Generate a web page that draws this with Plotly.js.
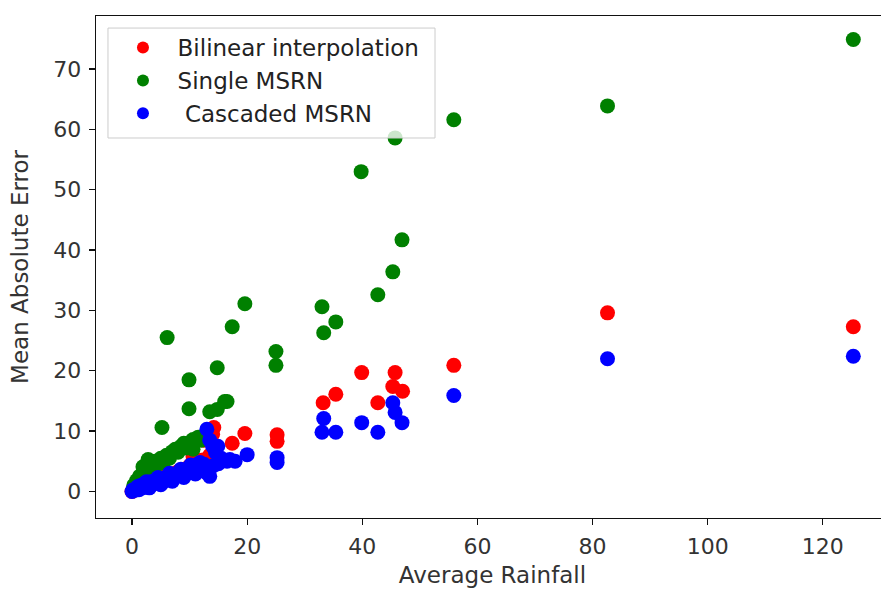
<!DOCTYPE html>
<html>
<head>
<meta charset="utf-8">
<script src="https://cdn.plot.ly/plotly-3.0.1.min.js"></script>
<style>
html,body{margin:0;padding:0;overflow:hidden;background:#fff;}
#chart{width:892px;height:590px;}
</style>
</head>
<body>
<div id="chart"></div>
<script>
// Series names
const seriesNames = ["Bilinear interpolation", "Single MSRN", "Cascaded MSRN"];

// Bilinear interpolation (red)
const bilinearX = [0, 0.5, 1, 1.8, 2.5, 3, 4, 5, 6, 7, 8, 9, 10, 11, 10.6, 12.3, 13.5, 12.5, 14, 14.2, 17.4, 19.6, 25.2, 25.2, 33.2, 35.4, 39.9, 42.7, 45.7, 45.3, 47.0, 55.9, 82.6, 125.3];
const bilinearY = [0, 0.3, 0.6, 0.9, 1.2, 1.5, 1.8, 2.2, 2.6, 2.9, 3.3, 3.7, 4.2, 4.6, 5.8, 5.2, 6.0, 8.5, 9.5, 10.6, 8.0, 9.6, 9.4, 8.3, 14.7, 16.1, 19.7, 14.7, 19.7, 17.4, 16.6, 20.9, 29.6, 27.3];

// Single MSRN (green)
const singleX = [0.3, 0.8, 1.3, 1.9, 2.5, 2.8, 3.5, 4.0, 4.5, 5.0, 5.2, 5.5, 6.0, 6.5, 7.0, 7.5, 8.0, 8.5, 9.0, 9.5, 10.0, 10.6, 10.6, 11.5, 12.0, 9.9, 13.5, 14.8, 16.1, 16.5, 9.9, 14.8, 6.1, 17.4, 19.6, 25.0, 25.0, 33.0, 35.4, 33.3, 42.7, 45.3, 46.9, 39.8, 45.7, 55.9, 82.6, 125.3];
const singleY = [1.0, 1.8, 2.5, 4.1, 3.2, 5.3, 4.0, 5.0, 4.5, 5.5, 10.6, 4.8, 6.0, 5.5, 6.6, 7.0, 6.5, 7.5, 8.0, 7.2, 8.1, 8.6, 7.0, 9.0, 8.5, 13.7, 13.2, 13.6, 14.9, 14.9, 18.5, 20.5, 25.5, 27.3, 31.1, 23.2, 20.9, 30.6, 28.1, 26.3, 32.6, 36.4, 41.7, 53.0, 58.6, 61.6, 63.9, 74.9];

// Cascaded MSRN (blue)
const cascadedX = [0, 0.2, 0.5, 0.8, 1.0, 1.2, 1.5, 1.8, 2.0, 2.3, 2.6, 3.0, 3.3, 3.6, 4.0, 4.3, 4.7, 5.0, 5.4, 5.8, 6.2, 6.6, 7.0, 7.4, 7.8, 8.2, 8.6, 9.0, 9.5, 10.0, 10.5, 11.0, 11.5, 11.8, 12.0, 12.5, 12.8, 13.2, 13.5, 14.2, 15.0, 13.0, 13.5, 14.0, 14.9, 14.5, 15.5, 16.5, 17.0, 17.9, 20.0, 25.2, 25.2, 33.3, 33.0, 35.4, 39.9, 42.7, 45.3, 45.7, 46.9, 55.9, 82.6, 125.3, 3.0, 5.0, 7.0, 9.0, 11.0, 2.5, 4.5, 6.5, 8.5, 10.2];
const cascadedY = [0, 0.3, 0.2, 0.5, 0.8, 0.3, 1.0, 0.6, 1.2, 0.8, 1.4, 1.0, 1.6, 1.2, 1.8, 1.4, 2.0, 1.6, 2.2, 1.8, 2.5, 2.1, 2.8, 2.4, 3.0, 2.6, 3.3, 2.9, 3.6, 3.2, 3.9, 3.5, 4.2, 4.8, 3.8, 4.5, 3.2, 4.0, 2.5, 4.3, 4.6, 10.3, 8.5, 7.5, 7.5, 6.5, 5.5, 5.0, 5.3, 5.0, 6.1, 5.6, 4.8, 12.1, 9.8, 9.8, 11.4, 9.8, 14.7, 13.1, 11.4, 15.9, 22.0, 22.4, 0.6, 1.1, 1.7, 2.3, 2.9, 1.6, 2.3, 3.0, 3.7, 4.4];

const xTicks = [0, 20, 40, 60, 80, 100, 120];
const yTicks = [0, 10, 20, 30, 40, 50, 60, 70];

const fontFam = "DejaVu Sans, sans-serif";
const nb = "\u00a0";

function mk(x, y, name, color, group) {
  return {
    type: "scatter", mode: "markers", x: x, y: y, name: name,
    legendgroup: group,
    marker: {color: color, size: 15, line: {width: 0}},
    hoverinfo: "skip"
  };
}

const data = [
  mk(bilinearX, bilinearY, nb + nb + seriesNames[0], "#ff0000", "a"),
  mk(singleX, singleY, nb + nb + seriesNames[1], "#008000", "b"),
  mk(cascadedX, cascadedY, nb + nb + nb + seriesNames[2], "#0000ff", "c")
];

const axisCommon = {
  showgrid: false, zeroline: false,
  showline: true, linecolor: "#111", linewidth: 1.4, mirror: true,
  ticks: "outside", ticklen: 6, tickwidth: 1.3, tickcolor: "#111",
  tickfont: {family: fontFam, size: 22, color: "#333"}
};

const layout = {
  width: 892, height: 590,
  margin: {l: 96, r: 3, t: 16, b: 72},
  paper_bgcolor: "#fff", plot_bgcolor: "#fff",
  showlegend: true,
  shapes: [{
    type: "rect", xref: "paper", yref: "paper",
    x0: 0.0151, x1: 0.4275, y0: 0.757, y1: 0.976,
    fillcolor: "rgba(255,255,255,0.8)", line: {color: "#cccccc", width: 1},
    layer: "above"
  }],
  legend: {
    x: 0.034, y: 0.98, xanchor: "left", yanchor: "top",
    bgcolor: "rgba(0,0,0,0)", borderwidth: 0,
    font: {family: fontFam, size: 23, color: "#222"},
    tracegroupgap: 0, itemsizing: "constant"
  },
  xaxis: Object.assign({}, axisCommon, {
    range: [-6.26, 131.5], tickvals: xTicks, ticktext: xTicks.map(String),
    ticklabelstandoff: 2,
    title: {text: "Average Rainfall", font: {family: fontFam, size: 23, color: "#333"}, standoff: 9}
  }),
  yaxis: Object.assign({}, axisCommon, {
    range: [-4.4, 78.8], tickvals: yTicks, ticktext: yTicks.map(String),
    ticklabelstandoff: 3,
    title: {text: "Mean Absolute Error", font: {family: fontFam, size: 23, color: "#333"}, standoff: 18}
  })
};

Plotly.newPlot("chart", data, layout, {staticPlot: true, displayModeBar: false});
</script>
</body>
</html>
